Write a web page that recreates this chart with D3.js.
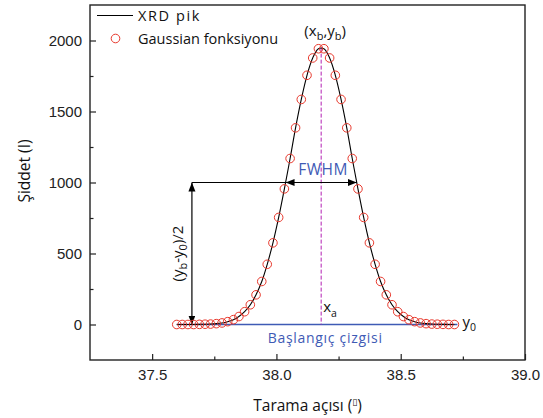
<!DOCTYPE html>
<html><head><meta charset="utf-8">
<script src="https://cdn.jsdelivr.net/npm/d3@7"></script>
<style>body{margin:0;background:#fff}</style>
</head><body>
<svg id="c" width="543" height="418"></svg>
<script>
// ---- data ----
const angle = [37.599, 37.621, 37.644, 37.667, 37.690, 37.713, 37.735, 37.758, 37.781, 37.804,
  37.827, 37.849, 37.872, 37.895, 37.918, 37.941, 37.963, 37.986, 38.009, 38.032,
  38.055, 38.077, 38.100, 38.123, 38.146, 38.169, 38.191, 38.214, 38.237, 38.260,
  38.283, 38.305, 38.328, 38.351, 38.374, 38.397, 38.419, 38.442, 38.465, 38.488,
  38.511, 38.533, 38.556, 38.579, 38.602, 38.625, 38.647, 38.670, 38.693, 38.716];
const xrdIntensity = [0, 0, 0, 0, 1, 2, 3, 6, 11, 20,
  34, 56, 90, 139, 209, 303, 424, 575, 754, 955,
  1169, 1385, 1585, 1755, 1877, 1942, 1942, 1877, 1755, 1585,
  1385, 1169, 955, 754, 575, 424, 303, 209, 139, 90,
  56, 34, 20, 11, 6, 3, 2, 1, 0, 0];
const gaussIntensity = [0, 0, 0, 0, 1, 2, 3, 6, 11, 20,
  34, 56, 90, 139, 209, 303, 424, 575, 754, 955,
  1169, 1385, 1585, 1755, 1877, 1942, 1942, 1877, 1755, 1585,
  1385, 1169, 955, 754, 575, 424, 303, 209, 139, 90,
  56, 34, 20, 11, 6, 3, 2, 1, 0, 0];
const xTicks = [37.5, 38.0, 38.5, 39.0];
const xMinorTicks = [37.75, 38.25, 38.75];
const yTicks = [0, 500, 1000, 1500, 2000];
const yMinorTicks = [250, 750, 1250, 1750];
const xDomain = [37.25, 39.0];
const yDomain = [-250, 2250];
const peakX = 38.18, peakY = 1950, baseY = 0, halfLevel = 1000, arrowX = 37.66;
const legendLabels = ["XRD pik", "Gaussian fonksiyonu"];

// ---- layout ----
const svg = d3.select("#c");
const L = 90, R = 525, T = 5, B = 360;
const x = d3.scaleLinear().domain(xDomain).range([L, R]);
const y = d3.scaleLinear().domain(yDomain).range([B, T]);
const sans = "'Open Sans', 'Noto Sans', sans-serif";
const blue = "#3f5bb5", red = "#e8382c", mag = "#b21fb2";

const defs = svg.append("defs");
defs.append("marker").attr("id", "ah").attr("markerUnits", "userSpaceOnUse")
  .attr("markerWidth", 10).attr("markerHeight", 8).attr("refX", 9).attr("refY", 3.5)
  .attr("orient", "auto-start-reverse")
  .append("path").attr("d", "M0,0 L9,3.5 L0,7 Z").attr("fill", "#000");

// axes (inward ticks)
function styleAxis(g) {
  g.select(".domain").remove();
  g.selectAll("line").attr("stroke", "#222").attr("stroke-width", 1.2);
  g.selectAll("text").attr("font-family", "'Liberation Sans', Arial, sans-serif")
    .attr("font-size", 15).attr("fill", "#222");
}
svg.append("g").attr("transform", `translate(0,${B})`)
  .call(d3.axisBottom(x).tickValues(xTicks).tickFormat(d3.format(".1f")).tickSize(-6).tickPadding(9))
  .call(styleAxis);
svg.append("g").attr("transform", `translate(0,${B})`)
  .call(d3.axisBottom(x).tickValues(xMinorTicks).tickFormat("").tickSize(-3.5))
  .call(styleAxis);
svg.append("g").attr("transform", `translate(${L},0)`)
  .call(d3.axisLeft(y).tickValues(yTicks).tickFormat(d3.format("d")).tickSize(-6).tickPadding(8))
  .call(styleAxis);
svg.append("g").attr("transform", `translate(${L},0)`)
  .call(d3.axisLeft(y).tickValues(yMinorTicks).tickFormat("").tickSize(-3.5))
  .call(styleAxis);

svg.append("rect").attr("x", L).attr("y", T).attr("width", R - L).attr("height", B - T)
  .attr("fill", "none").attr("stroke", "#222").attr("stroke-width", 1.4);

// axis titles
svg.append("text").attr("x", (L + R) / 2).attr("y", 411).attr("text-anchor", "middle")
  .attr("font-family", sans).attr("font-size", 15.5).attr("fill", "#111")
  .call(t => {
    t.append("tspan").text("Tarama açısı (");
    t.append("tspan").attr("font-family", "'DejaVu Sans'").attr("font-size", 9).attr("dy", -6).text("\u25AF");
    t.append("tspan").attr("dy", 6).text(")");
  });
svg.append("text").attr("transform", "translate(30,171) rotate(-90)").attr("text-anchor", "middle")
  .attr("font-family", sans).attr("font-size", 15.5).attr("fill", "#111").text("Şiddet (I)");

// baseline (blue)
svg.append("line").attr("x1", x(angle[0])).attr("x2", x(angle[angle.length - 1]) + 3)
  .attr("y1", y(baseY)).attr("y2", y(baseY)).attr("stroke", blue).attr("stroke-width", 1.3);

// dashed center line
svg.append("line").attr("x1", x(peakX)).attr("x2", x(peakX)).attr("y1", y(peakY)).attr("y2", y(baseY))
  .attr("stroke", mag).attr("stroke-width", 1).attr("stroke-dasharray", "4,2");

// half-level crossings from the data
function crossing(level, fromLeft) {
  const n = angle.length;
  if (fromLeft) {
    for (let i = 0; i < n - 1; i++) if (xrdIntensity[i] <= level && xrdIntensity[i + 1] > level)
      return angle[i] + (level - xrdIntensity[i]) / (xrdIntensity[i + 1] - xrdIntensity[i]) * (angle[i + 1] - angle[i]);
  } else {
    for (let i = n - 1; i > 0; i--) if (xrdIntensity[i] <= level && xrdIntensity[i - 1] > level)
      return angle[i] - (level - xrdIntensity[i]) / (xrdIntensity[i - 1] - xrdIntensity[i]) * (angle[i] - angle[i - 1]);
  }
}
const xl = crossing(halfLevel, true), xr = crossing(halfLevel, false);
svg.append("line").attr("x1", x(arrowX)).attr("x2", x(xl)).attr("y1", y(halfLevel)).attr("y2", y(halfLevel))
  .attr("stroke", "#000").attr("stroke-width", 1.2);
svg.append("line").attr("x1", x(xl)).attr("x2", x(xr)).attr("y1", y(halfLevel)).attr("y2", y(halfLevel))
  .attr("stroke", "#000").attr("stroke-width", 1.2)
  .attr("marker-start", "url(#ah)").attr("marker-end", "url(#ah)");
svg.append("line").attr("x1", x(arrowX)).attr("x2", x(arrowX)).attr("y1", y(baseY)).attr("y2", y(halfLevel))
  .attr("stroke", "#000").attr("stroke-width", 1.2)
  .attr("marker-start", "url(#ah)").attr("marker-end", "url(#ah)");

// XRD line
const pts = angle.map((a, i) => [a, xrdIntensity[i]]);
svg.append("path").datum(pts)
  .attr("d", d3.line().x(d => x(d[0])).y(d => y(d[1])).curve(d3.curveCatmullRom))
  .attr("fill", "none").attr("stroke", "#000").attr("stroke-width", 1.1);

// Gaussian circles
svg.append("g").selectAll("circle").data(angle.map((a, i) => [a, gaussIntensity[i]])).join("circle")
  .attr("cx", d => x(d[0])).attr("cy", d => y(d[1])).attr("r", 4.3)
  .attr("fill", "none").attr("stroke", red).attr("stroke-width", 1);

// annotation texts
svg.append("text").attr("x", x(peakX) + 4).attr("y", 36).attr("text-anchor", "middle")
  .attr("font-family", sans).attr("font-size", 15).attr("fill", "#111")
  .call(t => {
    t.append("tspan").text("(x");
    t.append("tspan").attr("font-size", 11).attr("dy", 4).text("b");
    t.append("tspan").attr("dy", -4).text(",y");
    t.append("tspan").attr("font-size", 11).attr("dy", 4).text("b");
    t.append("tspan").attr("dy", -4).text(")");
  });
svg.append("text").attr("x", x(peakX) + 2).attr("y", 175).attr("text-anchor", "middle")
  .attr("font-family", sans).attr("font-size", 15.5).attr("fill", blue).attr("letter-spacing", 0.5).text("FWHM");
svg.append("text").attr("x", x(peakX) + 4).attr("y", 343).attr("text-anchor", "middle")
  .attr("font-family", sans).attr("font-size", 14).attr("fill", blue).attr("letter-spacing", 0.7).text("Başlangıç çizgisi");
svg.append("text").attr("x", x(peakX) + 2).attr("y", 312)
  .attr("font-family", sans).attr("font-size", 15).attr("fill", "#111")
  .call(t => {
    t.append("tspan").text("x");
    t.append("tspan").attr("font-size", 10.5).attr("dy", 5).text("a");
  });
svg.append("text").attr("x", x(angle[angle.length - 1]) + 8).attr("y", 327)
  .attr("font-family", sans).attr("font-size", 15).attr("fill", "#111")
  .call(t => {
    t.append("tspan").text("y");
    t.append("tspan").attr("font-size", 10.5).attr("dy", 4).text("0");
  });
svg.append("text").attr("transform", `translate(183,${(y(baseY) + y(halfLevel)) / 2}) rotate(-90)`)
  .attr("text-anchor", "middle").attr("font-family", sans).attr("font-size", 15).attr("fill", "#111")
  .call(t => {
    t.append("tspan").text("(y");
    t.append("tspan").attr("font-size", 11).attr("dy", 4).text("b");
    t.append("tspan").attr("dy", -4).text("-y");
    t.append("tspan").attr("font-size", 11).attr("dy", 4).text("0");
    t.append("tspan").attr("dy", -4).text(")/2");
  });

// legend
const lg = svg.append("g").attr("font-family", sans).attr("font-size", 14.5).attr("fill", "#111");
lg.append("line").attr("x1", 97).attr("x2", 133).attr("y1", 15.5).attr("y2", 15.5).attr("stroke", "#000").attr("stroke-width", 1.1);
lg.append("text").attr("x", 138).attr("y", 21).attr("letter-spacing", 1.6).text(legendLabels[0]);
lg.append("circle").attr("cx", 115.5).attr("cy", 38.5).attr("r", 4.3).attr("fill", "none").attr("stroke", red).attr("stroke-width", 1);
lg.append("text").attr("x", 138).attr("y", 43.5).text(legendLabels[1]);
</script>
</body></html>
